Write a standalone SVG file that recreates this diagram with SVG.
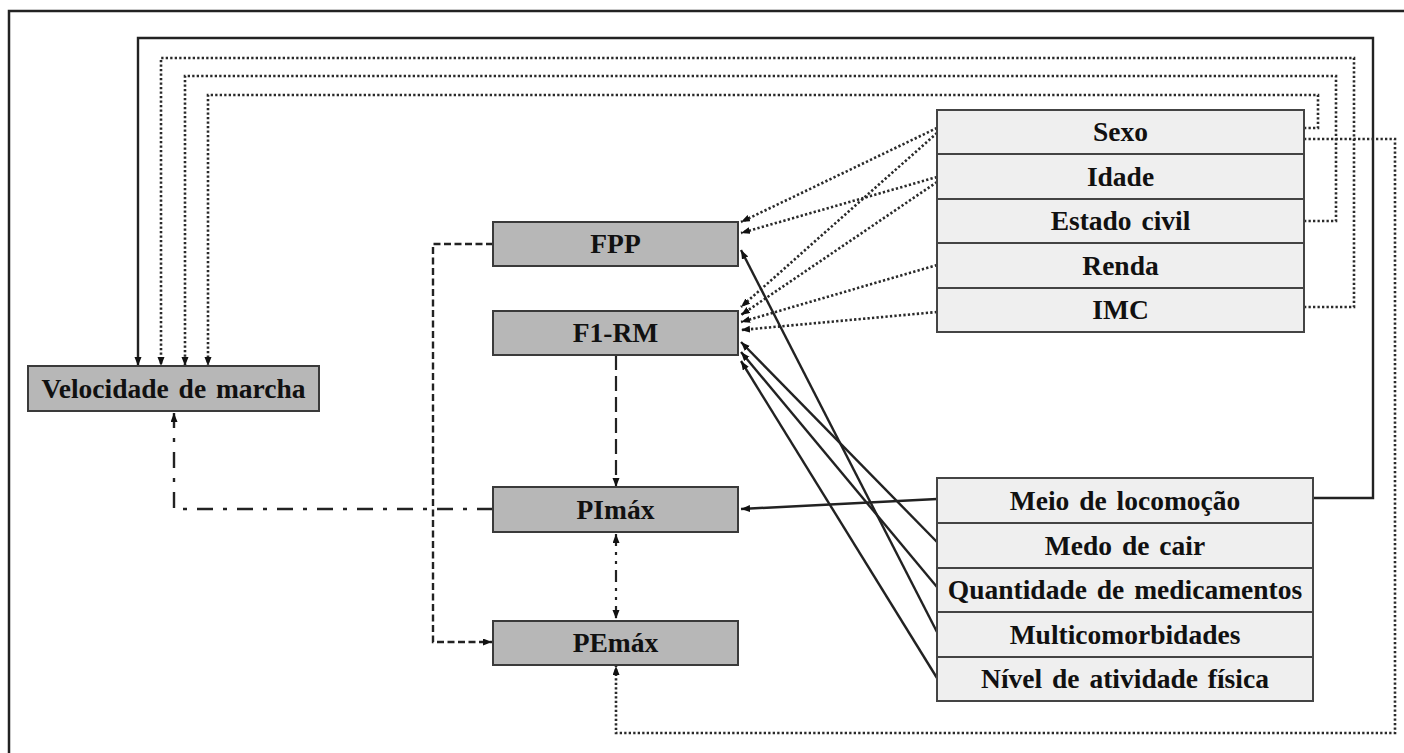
<svg xmlns="http://www.w3.org/2000/svg" width="1404" height="753" viewBox="0 0 1404 753">
<style>
.dark{fill:#b7b7b7;stroke:#3a3a3a;stroke-width:2}
.light{fill:#efefef;stroke:#444;stroke-width:2}
.t{font-family:"Liberation Serif","Times New Roman",serif;font-weight:bold;font-size:27.5px;word-spacing:3px;fill:#111;text-anchor:middle}
.c{fill:none;stroke:#222;stroke-width:2.2}
.solid{stroke-width:2.4}
.dot{stroke:#2a2a2a;stroke-width:2.6;stroke-dasharray:2.3 2.2}
.dash{stroke-width:2.4;stroke-dasharray:7 3.5}
.long{stroke-width:2.2;stroke-dasharray:15 6}
.dd{stroke-width:2.4;stroke-dasharray:16 10 4 10}
.ddd{stroke-width:2.2;stroke-dasharray:12 6 3 6 3 6}
</style>
<defs>
<marker id="ah" markerUnits="userSpaceOnUse" markerWidth="10" markerHeight="8" refX="9" refY="3.5" orient="auto">
<path d="M0,0 L9,3.5 L0,7 z" fill="#111"/>
</marker>
<marker id="ahs" markerUnits="userSpaceOnUse" markerWidth="10" markerHeight="8" refX="9" refY="3.5" orient="auto-start-reverse">
<path d="M0,0 L9,3.5 L0,7 z" fill="#111"/>
</marker>
</defs>
<rect width="1404" height="753" fill="#fff"/>
<path d="M9,753 V11 H1404" fill="none" stroke="#222" stroke-width="2.5"/>

<g id="connectors">
<path class="c solid" d="M1313,498 H1373 V38 H138 V366" marker-end="url(#ah)"/>
<path class="c dot" d="M1304,307 H1354 V58 H161 V366" marker-end="url(#ah)"/>
<path class="c dot" d="M1304,221 H1336 V76 H185 V366" marker-end="url(#ah)"/>
<path class="c dot" d="M1304,128 H1318 V95 H208 V366" marker-end="url(#ah)"/>
<path class="c dot" d="M1304,139 H1395 V733 H616 V666" marker-end="url(#ah)"/>
<path class="c dot" d="M937,128 L741,222" marker-end="url(#ah)"/>
<path class="c dot" d="M937,177 L741,233" marker-end="url(#ah)"/>
<path class="c dot" d="M937,133 L741,307" marker-end="url(#ah)"/>
<path class="c dot" d="M937,182 L741,315" marker-end="url(#ah)"/>
<path class="c dot" d="M937,265 L741,322" marker-end="url(#ah)"/>
<path class="c dot" d="M937,312 L741,330" marker-end="url(#ah)"/>
<path class="c solid" d="M937,632 L741,250" marker-end="url(#ah)"/>
<path class="c solid" d="M937,542 L741,342" marker-end="url(#ah)"/>
<path class="c solid" d="M937,587 L741,352" marker-end="url(#ah)"/>
<path class="c solid" d="M937,678 L741,361" marker-end="url(#ah)"/>
<path class="c solid" d="M937,499 L741,509" marker-end="url(#ah)"/>
<path class="c dash" d="M493,244 H433 V642 H492" marker-end="url(#ah)"/>
<path class="c long" d="M616,355 V487" marker-end="url(#ah)"/>
<path class="c ddd" d="M616,534 V619" marker-start="url(#ahs)" marker-end="url(#ah)"/>
<path class="c dd" d="M493,509 H174 V413" marker-end="url(#ah)"/>
</g>

<g id="velocidade">
<rect class="dark" x="28" y="366" width="291" height="45"/>
<text class="t" x="173.5" y="398">Velocidade de marcha</text>
</g>
<g id="fpp">
<rect class="dark" x="493" y="222" width="245" height="44"/>
<text class="t" x="615.5" y="253">FPP</text>
</g>
<g id="f1rm">
<rect class="dark" x="493" y="311" width="245" height="44"/>
<text class="t" x="615.5" y="342">F1-RM</text>
</g>
<g id="pimax">
<rect class="dark" x="493" y="487" width="245" height="45"/>
<text class="t" x="615.5" y="519">PImáx</text>
</g>
<g id="pemax">
<rect class="dark" x="493" y="621" width="245" height="44"/>
<text class="t" x="615.5" y="652">PEmáx</text>
</g>

<g id="sexo">
<rect class="light" x="937" y="110" width="367" height="44"/>
<text class="t" x="1120.5" y="141">Sexo</text>
</g>
<g id="idade">
<rect class="light" x="937" y="154" width="367" height="45"/>
<text class="t" x="1120.5" y="186">Idade</text>
</g>
<g id="estado-civil">
<rect class="light" x="937" y="199" width="367" height="44"/>
<text class="t" x="1120.5" y="230">Estado civil</text>
</g>
<g id="renda">
<rect class="light" x="937" y="243" width="367" height="45"/>
<text class="t" x="1120.5" y="275">Renda</text>
</g>
<g id="imc">
<rect class="light" x="937" y="288" width="367" height="44"/>
<text class="t" x="1120.5" y="319">IMC</text>
</g>

<g id="meio-locomocao">
<rect class="light" x="937" y="478" width="376" height="45"/>
<text class="t" x="1125" y="510">Meio de locomoção</text>
</g>
<g id="medo-cair">
<rect class="light" x="937" y="523" width="376" height="45"/>
<text class="t" x="1125" y="555">Medo de cair</text>
</g>
<g id="quantidade-medicamentos">
<rect class="light" x="937" y="568" width="376" height="44"/>
<text class="t" x="1125" y="599">Quantidade de medicamentos</text>
</g>
<g id="multicomorbidades">
<rect class="light" x="937" y="612" width="376" height="45"/>
<text class="t" x="1125" y="644">Multicomorbidades</text>
</g>
<g id="nivel-atividade">
<rect class="light" x="937" y="657" width="376" height="44"/>
<text class="t" x="1125" y="688">Nível de atividade física</text>
</g>
</svg>
